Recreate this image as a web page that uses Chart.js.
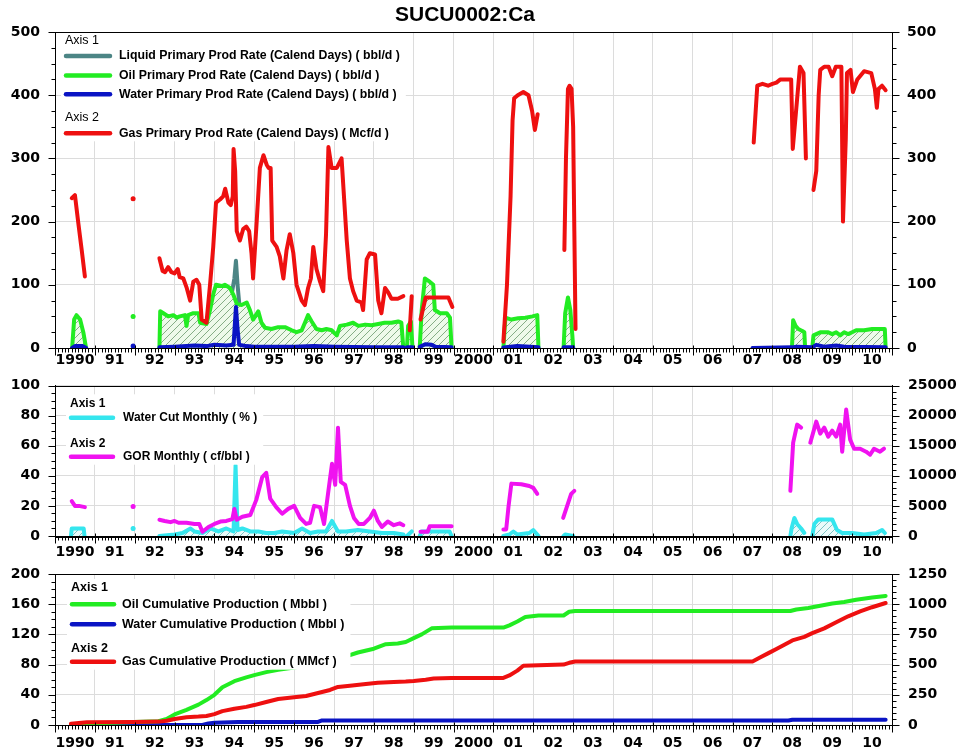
<!DOCTYPE html>
<html>
<head>
<meta charset="utf-8">
<script src="https://cdn.jsdelivr.net/npm/chart.js@4.4.0/dist/chart.umd.min.js"></script>
<style>
  html, body { margin: 0; padding: 0; background: #fff; }
  #wrap { position: relative; width: 960px; height: 751px; }
  canvas { position: absolute; left: 0; }
</style>
</head>
<body>
<div id="wrap">
  <canvas id="rateChart" width="960" height="370" style="top:0"></canvas>
  <canvas id="ratioChart" width="960" height="190" style="top:370px"></canvas>
  <canvas id="cumChart" width="960" height="191" style="top:560px"></canvas>
</div>
<script>
const chartTitle = 'SUCU0002:Ca';
const yearLabels = ['1990', '91', '92', '93', '94', '95', '96', '97', '98', '99',
  '2000', '01', '02', '03', '04', '05', '06', '07', '08', '09', '10'];
const axisHeads = ['Axis 1', 'Axis 2'];

// top panel: rates (points are [decimal year, value], null value = gap)
const rateLabels = ['Liquid Primary Prod Rate (Calend Days) ( bbl/d )',
  'Oil Primary Prod Rate (Calend Days) ( bbl/d )',
  'Water Primary Prod Rate (Calend Days) ( bbl/d )',
  'Gas Primary Prod Rate (Calend Days) ( Mcf/d )'];

const liquidRate = [[1994.3, 98], [1994.44, 88], [1994.5, 110], [1994.54, 138], [1994.58, 100], [1994.62, 72]];

const oilRate = [
  [1990.43, 0], [1990.48, 45], [1990.54, 52], [1990.63, 45], [1990.71, 25], [1990.78, 0], [1990.8, null],
  [1991.96, 50], [1992.0, null],
  [1992.62, 0], [1992.64, 58], [1992.72, 55], [1992.84, 50], [1992.97, 52], [1993.05, 48], [1993.13, 50],
  [1993.26, 52], [1993.3, 35], [1993.34, 52], [1993.47, 55], [1993.6, 55], [1993.64, 40], [1993.8, 38],
  [1993.89, 60], [1993.97, 85], [1994.04, 100], [1994.18, 98], [1994.26, 100], [1994.39, 95], [1994.47, 85],
  [1994.56, 70], [1994.68, 68], [1994.81, 72], [1994.89, 60], [1994.97, 45], [1995.1, 58], [1995.18, 40],
  [1995.27, 32], [1995.43, 30], [1995.6, 33], [1995.77, 33], [1995.94, 28], [1996.06, 25], [1996.19, 28],
  [1996.27, 40], [1996.35, 52], [1996.44, 42], [1996.56, 30], [1996.69, 28], [1996.81, 30], [1996.94, 28],
  [1997.07, 20], [1997.15, 35], [1997.32, 37], [1997.48, 40], [1997.61, 35], [1997.78, 37], [1997.94, 36],
  [1998.11, 38], [1998.27, 40], [1998.44, 40], [1998.61, 42], [1998.69, 40], [1998.74, 0], [1998.78, null],
  [1998.83, 0], [1998.86, 35], [1998.93, 42], [1998.97, 0], [1999.0, null],
  [1999.15, 0], [1999.2, 60], [1999.28, 110], [1999.4, 105], [1999.49, 100], [1999.53, 60], [1999.66, 55],
  [1999.83, 55], [1999.91, 48], [1999.95, 0], [2000.0, null],
  [2001.25, 0], [2001.3, 48], [2001.45, 45], [2001.62, 47], [2001.8, 48], [2001.98, 50], [2002.1, 52],
  [2002.13, 0], [2002.2, null],
  [2002.76, 0], [2002.8, 55], [2002.87, 80], [2002.93, 60], [2002.98, 20], [2003.0, 0], [2003.05, null],
  [2008.49, 0], [2008.52, 44], [2008.58, 35], [2008.65, 30], [2008.75, 27], [2008.8, 25], [2008.82, 0], [2008.9, null],
  [2009.0, 0], [2009.03, 20], [2009.1, 22], [2009.2, 25], [2009.4, 25], [2009.5, 22], [2009.6, 25], [2009.7, 20],
  [2009.8, 25], [2009.9, 22], [2010.0, 25], [2010.1, 28], [2010.3, 28], [2010.5, 30], [2010.7, 30], [2010.82, 30], [2010.84, 0]
];

const waterRate = [
  [1990.43, 0], [1990.5, 3], [1990.7, 3], [1990.78, 0], [1990.8, null],
  [1991.96, 3], [1992.0, null],
  [1992.62, 1], [1993.0, 2], [1993.5, 4], [1993.8, 3], [1994.0, 5], [1994.3, 4], [1994.48, 5], [1994.54, 65],
  [1994.58, 30], [1994.62, 5], [1994.8, 3], [1995.0, 2], [1996.0, 2], [1996.5, 3], [1997.0, 2], [1998.0, 1],
  [1998.74, 1], [1998.78, null],
  [1998.83, 1], [1998.97, 1], [1999.0, null],
  [1999.15, 2], [1999.3, 6], [1999.45, 5], [1999.55, 2], [1999.95, 1], [2000.0, null],
  [2001.25, 1], [2001.6, 3], [2002.13, 1], [2002.2, null],
  [2002.76, 1], [2003.0, 1], [2003.05, null],
  [2007.5, 0], [2008.5, 1], [2008.6, 2], [2009.0, 1], [2009.1, 5], [2009.3, 2], [2009.6, 4], [2009.8, 2], [2010.84, 1]
];

const gasRate = [
  [1990.42, 237], [1990.5, 242], [1990.58, 200], [1990.67, 155], [1990.75, 113], [1990.8, null],
  [1991.96, 236], [1992.0, null],
  [1992.62, 142], [1992.7, 122], [1992.76, 120], [1992.84, 128], [1992.92, 120], [1993.0, 118], [1993.08, 125],
  [1993.13, 112], [1993.22, 110], [1993.3, 96], [1993.39, 75], [1993.47, 105], [1993.55, 108], [1993.62, 100],
  [1993.68, 45], [1993.8, 40], [1993.89, 100], [1993.97, 160], [1994.04, 230], [1994.14, 235], [1994.22, 240],
  [1994.27, 252], [1994.35, 230], [1994.41, 226], [1994.46, 240], [1994.48, 315], [1994.52, 280], [1994.56, 185],
  [1994.64, 170], [1994.72, 188], [1994.8, 192], [1994.87, 185], [1994.93, 150], [1994.97, 110], [1995.06, 200],
  [1995.14, 285], [1995.23, 305], [1995.31, 290], [1995.36, 285], [1995.41, 285], [1995.45, 170], [1995.56, 160],
  [1995.64, 145], [1995.73, 110], [1995.81, 155], [1995.89, 180], [1995.98, 150], [1996.06, 100], [1996.19, 75],
  [1996.27, 68], [1996.35, 95], [1996.42, 110], [1996.48, 160], [1996.56, 125], [1996.65, 105], [1996.73, 90],
  [1996.8, 180], [1996.86, 318], [1996.94, 285], [1997.07, 285], [1997.19, 300], [1997.23, 260], [1997.32, 170],
  [1997.4, 110], [1997.48, 90], [1997.57, 75], [1997.69, 72], [1997.73, 60], [1997.82, 140], [1997.9, 150],
  [1998.03, 148], [1998.11, 75], [1998.19, 55], [1998.28, 95], [1998.36, 88], [1998.44, 78], [1998.6, 78],
  [1998.74, 82], [1998.8, null],
  [1998.9, 28], [1998.95, 82], [1999.0, null],
  [1999.17, 45], [1999.3, 80], [1999.5, 80], [1999.7, 80], [1999.87, 80], [1999.97, 65], [2000.1, null],
  [2001.25, 10], [2001.34, 100], [2001.43, 240], [2001.48, 360], [2001.52, 395], [2001.61, 400], [2001.75, 405],
  [2001.88, 400], [2001.97, 375], [2002.04, 345], [2002.11, 370], [2002.2, null],
  [2002.78, 155], [2002.82, 300], [2002.87, 410], [2002.91, 415], [2002.96, 410], [2003.0, 350], [2003.03, 185],
  [2003.06, 30], [2003.1, null],
  [2007.53, 325], [2007.62, 415], [2007.75, 418], [2007.89, 415], [2008.0, 418], [2008.1, 420], [2008.2, 425],
  [2008.47, 425], [2008.51, 315], [2008.6, 380], [2008.69, 445], [2008.78, 435], [2008.84, 300], [2008.9, null],
  [2009.03, 250], [2009.1, 280], [2009.16, 400], [2009.2, 440], [2009.3, 445], [2009.41, 445], [2009.5, 430],
  [2009.59, 445], [2009.73, 445], [2009.77, 200], [2009.84, 330], [2009.87, 435], [2009.96, 440], [2010.02, 405],
  [2010.13, 425], [2010.3, 438], [2010.48, 435], [2010.57, 410], [2010.62, 380], [2010.66, 410], [2010.75, 415],
  [2010.84, 408]
];

// middle panel: water cut (%) and GOR (cf/bbl)
const ratioLabels = ['Water Cut Monthly ( % )', 'GOR Monthly ( cf/bbl )'];

const waterCut = [
  [1990.4, 0], [1990.42, 5], [1990.72, 5], [1990.74, 0], [1990.8, null],
  [1991.96, 5], [1992.0, null],
  [1992.62, 0], [1993.0, 1], [1993.2, 2], [1993.4, 5], [1993.5, 3], [1993.7, 2], [1993.9, 5], [1994.1, 3],
  [1994.3, 5], [1994.48, 3], [1994.53, 47], [1994.58, 4], [1994.7, 5], [1994.9, 3], [1995.1, 3], [1995.3, 2],
  [1995.5, 2], [1995.7, 3], [1996.0, 2], [1996.2, 5], [1996.4, 2], [1996.6, 3], [1996.8, 3], [1996.95, 10],
  [1997.1, 3], [1997.3, 3], [1997.6, 4], [1997.9, 3], [1998.2, 2], [1998.5, 2], [1998.74, 1], [1998.78, null],
  [1998.83, 0], [1998.95, 3], [1999.0, null],
  [1999.15, 0], [1999.2, 3], [1999.9, 3], [1999.95, 0], [2000.0, null],
  [2001.25, 0], [2001.4, 1], [2001.5, 3], [2001.6, 1], [2001.9, 2], [2002.0, 4], [2002.1, 1], [2002.13, 0], [2002.2, null],
  [2002.76, 0], [2002.8, 1], [2003.0, 0], [2003.05, null],
  [2008.45, 0], [2008.48, 5], [2008.55, 12], [2008.62, 8], [2008.72, 5], [2008.8, 2], [2008.85, null],
  [2009.0, 0], [2009.05, 8], [2009.15, 11], [2009.5, 11], [2009.62, 4], [2009.75, 2], [2010.0, 2], [2010.3, 1],
  [2010.6, 2], [2010.75, 4], [2010.82, 2]
];

const gorMonthly = [
  [1990.42, 5800], [1990.5, 5000], [1990.6, 5000], [1990.75, 4800], [1990.8, null],
  [1991.96, 4900], [1992.0, null],
  [1992.62, 2700], [1992.75, 2500], [1992.9, 2300], [1993.0, 2500], [1993.1, 2200], [1993.3, 2200], [1993.5, 2000],
  [1993.62, 2000], [1993.7, 700], [1993.85, 1500], [1994.0, 2000], [1994.15, 2400], [1994.3, 2500], [1994.45, 2800],
  [1994.5, 4500], [1994.56, 2700], [1994.7, 3200], [1994.9, 3500], [1995.05, 6000], [1995.2, 9800], [1995.3, 10500],
  [1995.4, 6200], [1995.55, 4800], [1995.7, 3700], [1995.85, 4500], [1996.0, 5000], [1996.15, 3000], [1996.3, 2000],
  [1996.4, 2200], [1996.5, 5000], [1996.65, 4800], [1996.75, 2000], [1996.85, 7000], [1996.95, 12000], [1997.03, 8500],
  [1997.1, 18000], [1997.17, 9000], [1997.28, 8500], [1997.4, 5000], [1997.5, 3000], [1997.62, 2000], [1997.75, 2000],
  [1997.9, 3000], [1998.0, 4200], [1998.1, 2500], [1998.2, 1500], [1998.35, 2400], [1998.5, 1800], [1998.65, 2100],
  [1998.74, 1800], [1998.78, null],
  [1999.17, 700], [1999.35, 700], [1999.4, 1600], [1999.95, 1600], [2000.0, null],
  [2001.25, 1100], [2001.32, 1100], [2001.38, 5000], [2001.45, 8700], [2001.7, 8600], [2001.9, 8300], [2002.0, 8000],
  [2002.1, 7000], [2002.2, null],
  [2002.75, 3000], [2002.85, 5000], [2002.95, 7000], [2003.03, 7500], [2003.1, null],
  [2008.45, 7500], [2008.52, 15500], [2008.62, 18500], [2008.72, 18000], [2008.78, null],
  [2008.95, 15500], [2009.1, 19000], [2009.2, 17000], [2009.3, 18000], [2009.4, 16500], [2009.5, 17500],
  [2009.6, 16500], [2009.7, 18500], [2009.75, 14000], [2009.85, 21000], [2009.95, 16000], [2010.05, 14500],
  [2010.2, 14500], [2010.35, 14000], [2010.45, 13500], [2010.55, 14500], [2010.7, 14000], [2010.8, 14500]
];

// bottom panel: cumulatives
const cumLabels = ['Oil Cumulative Production ( Mbbl )', 'Water Cumulative Production ( Mbbl )',
  'Gas Cumulative Production ( MMcf )'];

const oilCum = [
  [1990.4, 0], [1990.8, 2], [1991.5, 3], [1992.0, 4], [1992.6, 5], [1992.8, 8], [1993.0, 14], [1993.3, 20],
  [1993.6, 27], [1993.8, 33], [1994.0, 40], [1994.2, 50], [1994.5, 58], [1994.8, 63], [1995.0, 66], [1995.3, 70],
  [1995.6, 73], [1996.0, 76], [1996.5, 80], [1996.8, 84], [1997.0, 86], [1997.3, 91], [1997.6, 96], [1998.0, 101],
  [1998.3, 107], [1998.6, 108], [1998.8, 110], [1999.0, 115], [1999.2, 120], [1999.45, 128], [1999.95, 129],
  [2001.25, 129], [2001.4, 132], [2001.6, 137], [2001.8, 143], [2002.13, 145], [2002.76, 145], [2002.9, 150],
  [2003.05, 151], [2008.45, 151], [2008.6, 153], [2008.9, 155], [2009.2, 158], [2009.5, 161], [2009.8, 163],
  [2010.1, 166], [2010.5, 169], [2010.84, 171]
];

const waterCum = [
  [1990.4, 0], [1993.7, 0], [1993.85, 2], [1994.0, 3], [1994.6, 4], [1996.6, 4], [1996.7, 6], [2008.4, 6],
  [2008.5, 7], [2010.84, 7]
];

const gasCum = [
  [1990.4, 10], [1990.8, 22], [1991.96, 24], [1992.62, 28], [1992.8, 35], [1993.0, 50], [1993.3, 65], [1993.6, 70],
  [1993.8, 75], [1994.0, 90], [1994.2, 115], [1994.5, 135], [1994.8, 150], [1995.0, 165], [1995.3, 190],
  [1995.6, 215], [1996.0, 230], [1996.3, 240], [1996.6, 265], [1996.9, 290], [1997.1, 315], [1997.4, 325],
  [1997.8, 340], [1998.1, 350], [1998.5, 355], [1998.8, 360], [1999.0, 365], [1999.3, 375], [1999.5, 385],
  [1999.95, 390], [2001.25, 390], [2001.4, 410], [2001.6, 450], [2001.75, 490], [2002.13, 495], [2002.76, 500],
  [2002.9, 515], [2003.05, 525], [2007.5, 525], [2007.7, 560], [2007.9, 595], [2008.1, 630], [2008.3, 665],
  [2008.5, 700], [2008.8, 730], [2009.0, 760], [2009.3, 800], [2009.6, 850], [2009.9, 900], [2010.2, 940],
  [2010.5, 975], [2010.84, 1010]
];

const GRID = '#dcdcdc';
const CLEAR = 'rgba(0,0,0,0)';
const SANS = "'Liberation Sans', Arial, sans-serif";
const TICKFONT = { family: "'DejaVu Sans', Verdana, sans-serif", weight: 'bold', size: 14, lineHeight: 1 };

function toPoints(pairs) {
  return pairs.map(p => ({ x: p[0], y: p[1] }));
}

function hatch(bg, line) {
  const c = document.createElement('canvas');
  c.width = 7; c.height = 7;
  const g = c.getContext('2d');
  g.fillStyle = bg;
  g.fillRect(0, 0, 7, 7);
  g.strokeStyle = line;
  g.lineWidth = 1;
  g.beginPath();
  g.moveTo(0, 7); g.lineTo(7, 0);
  g.moveTo(-1, 1); g.lineTo(1, -1);
  g.moveTo(6, 8); g.lineTo(8, 6);
  g.stroke();
  return g.createPattern(c, 'repeat');
}

// single isolated samples get a dot, everything else is a plain line
function dotIfAlone(ctx) {
  const d = ctx.dataset.data;
  const i = ctx.dataIndex;
  if (!d[i] || d[i].y === null) return 0;
  const prev = d[i - 1], next = d[i + 1];
  return (!prev || prev.y === null) && (!next || next.y === null) ? 2.5 : 0;
}

function series(label, pairs, color, axis, order, extra) {
  return Object.assign({
    label: label,
    data: toPoints(pairs),
    yAxisID: axis,
    borderColor: color,
    backgroundColor: color,
    borderWidth: 4,
    borderJoinStyle: 'round',
    borderCapStyle: 'round',
    pointRadius: dotIfAlone,
    pointBorderWidth: 0,
    pointBackgroundColor: color,
    fill: false,
    tension: 0,
    spanGaps: false,
    order: order
  }, extra || {});
}

function xAxis(pad, height) {
  return {
    type: 'linear',
    min: 1990,
    max: 2011,
    ticks: {
      stepSize: 0.5,
      autoSkip: false,
      maxRotation: 0,
      minRotation: 0,
      padding: pad,
      color: '#000',
      font: TICKFONT,
      callback: v => (Math.abs(v % 1 - 0.5) < 1e-6 ? yearLabels[Math.floor(v) - 1990] : '')
    },
    grid: {
      drawTicks: false,
      color: c => (c.tick && Math.abs(c.tick.value % 1) < 1e-6 ? GRID : CLEAR)
    },
    border: { display: true, color: '#000', width: 1 },
    afterFit: s => { s.height = height; }
  };
}

// tick marks themselves are drawn by frameTicks; the invisible tickLength only spaces the labels
function yAxis(pos, max, minor, major, gap, width, showGrid) {
  return {
    type: 'linear',
    position: pos,
    min: 0,
    max: max,
    ticks: {
      stepSize: minor,
      autoSkip: false,
      padding: 2,
      color: '#000',
      font: TICKFONT,
      callback: v => (v % major === 0 ? String(v) : '')
    },
    grid: {
      display: true,
      drawOnChartArea: showGrid,
      drawTicks: true,
      tickLength: gap,
      tickColor: CLEAR,
      color: c => (c.tick && c.tick.value % major === 0 ? GRID : CLEAR)
    },
    border: { display: true, color: '#000', width: 1 },
    afterFit: s => { s.width = width; }
  };
}

// frame around the plot plus major/minor tick marks outside it
const frameTicks = {
  id: 'frameTicks',
  afterDraw(chart, args, opts) {
    const a = chart.chartArea;
    const c = chart.ctx;
    c.save();
    c.strokeStyle = '#000';
    c.lineWidth = 1;
    c.strokeRect(Math.round(a.left) + 0.5, Math.round(a.top) + 0.5,
      Math.round(a.right - a.left), Math.round(a.bottom - a.top));
    c.beginPath();
    const xs = chart.scales.x;
    const b = Math.round(a.bottom) + 0.5;
    for (let m = 0; m <= 12 * 21; m++) {
      const px = Math.round(xs.getPixelForValue(1990 + m / 12)) + 0.5;
      if (m % 12 === 0) { c.moveTo(px, b - 3); c.lineTo(px, b + 7); }
      else { c.moveTo(px, b); c.lineTo(px, b + 4); }
    }
    ['y', 'y2'].forEach(id => {
      const s = chart.scales[id];
      const major = opts[id];
      const edge = id === 'y' ? Math.round(a.left) + 0.5 : Math.round(a.right) + 0.5;
      const dir = id === 'y' ? -1 : 1;
      s.ticks.forEach(t => {
        const py = Math.round(s.getPixelForValue(t.value)) + 0.5;
        const len = t.value % major === 0 ? 7 : 4;
        c.moveTo(edge, py);
        c.lineTo(edge + dir * len, py);
      });
    });
    c.stroke();
    c.restore();
  }
};

// "Axis 1 / Axis 2" grouped legend drawn inside the plot on a white box
const axisLegend = {
  id: 'axisLegend',
  afterDatasetsDraw(chart, args, o) {
    const c = chart.ctx;
    const rows = [];
    ['y', 'y2'].forEach((id, k) => {
      rows.push({ head: axisHeads[k] });
      chart.data.datasets.forEach(d => { if (d.yAxisID === id) rows.push({ label: d.label, color: d.borderColor }); });
    });
    c.save();
    c.font = o.font;
    let w = 0;
    rows.forEach(r => { if (r.label) w = Math.max(w, c.measureText(r.label).width); });
    c.fillStyle = '#fff';
    c.fillRect(o.x - 4, o.ys[0] - 9, o.textX + w + 6 - (o.x - 4), o.ys[o.ys.length - 1] - o.ys[0] + 17);
    c.textBaseline = 'middle';
    c.textAlign = 'left';
    rows.forEach((r, i) => {
      const y = o.ys[i];
      c.fillStyle = '#000';
      if (r.head) {
        c.font = o.headFont;
        c.fillText(r.head, o.x, y);
      } else {
        c.strokeStyle = r.color;
        c.lineWidth = 4.5;
        c.lineCap = 'round';
        c.beginPath();
        c.moveTo(o.x + 1, y);
        c.lineTo(o.x + o.sampleW, y);
        c.stroke();
        c.font = o.font;
        c.fillText(r.label, o.textX, y);
      }
    });
    c.restore();
  }
};

const titlePlugin = {
  id: 'plotTitle',
  afterDraw(chart, args, o) {
    if (!o || !o.text) return;
    const c = chart.ctx;
    c.save();
    c.font = 'bold 21px ' + SANS;
    c.fillStyle = '#000';
    c.textAlign = 'center';
    c.textBaseline = 'middle';
    c.fillText(o.text, o.x, o.y);
    c.restore();
  }
};

function baseOptions(top, scales, legendOpts, majors, title) {
  return {
    responsive: false,
    animation: false,
    layout: { padding: { top: top, left: 0, right: 0, bottom: 0 } },
    plugins: {
      legend: { display: false },
      tooltip: { enabled: false },
      frameTicks: majors,
      axisLegend: legendOpts,
      plotTitle: title || {}
    },
    scales: scales
  };
}

const greenHatch = hatch('#eefaea', '#86ad86');
const cyanHatch = hatch('#eafafa', '#7cc4c4');

new Chart(document.getElementById('rateChart'), {
  type: 'line',
  data: {
    datasets: [
      series(rateLabels[0], liquidRate, '#4c8585', 'y', 4),
      series(rateLabels[1], oilRate, '#22ec22', 'y', 3, { fill: 'origin', backgroundColor: greenHatch }),
      series(rateLabels[2], waterRate, '#0a14c4', 'y', 1),
      series(rateLabels[3], gasRate, '#ee1010', 'y2', 0)
    ]
  },
  options: baseOptions(32, {
    x: xAxis(5, 22),
    y: yAxis('left', 500, 25, 100, 13, 55, true),
    y2: yAxis('right', 500, 25, 100, 13, 68, false)
  }, {
    x: 65, sampleW: 45, textX: 119, ys: [41, 56, 75.5, 94.3, 117.3, 133.3],
    font: 'bold 12.3px ' + SANS, headFont: '12.5px ' + SANS
  }, { y: 100, y2: 100 }, { text: chartTitle, x: 465, y: 15 }),
  plugins: [frameTicks, axisLegend, titlePlugin]
});

new Chart(document.getElementById('ratioChart'), {
  type: 'line',
  data: {
    datasets: [
      series(ratioLabels[0], waterCut, '#35e6ee', 'y', 1, { fill: 'origin', backgroundColor: cyanHatch }),
      series(ratioLabels[1], gorMonthly, '#f012f0', 'y2', 0)
    ]
  },
  options: baseOptions(15.5, {
    x: xAxis(9, 24),
    y: yAxis('left', 100, 5, 20, 13, 55, true),
    y2: yAxis('right', 25000, 1000, 5000, 14, 68, false)
  }, {
    x: 70, sampleW: 43, textX: 123, ys: [33.3, 47.7, 73.3, 86.7],
    font: 'bold 12px ' + SANS, headFont: 'bold 12px ' + SANS
  }, { y: 20, y2: 5000 }),
  plugins: [frameTicks, axisLegend]
});

new Chart(document.getElementById('cumChart'), {
  type: 'line',
  data: {
    datasets: [
      series(cumLabels[0], oilCum, '#22ec22', 'y', 1),
      series(cumLabels[1], waterCum, '#0a14c4', 'y', 2),
      series(cumLabels[2], gasCum, '#ee1010', 'y2', 0)
    ]
  },
  options: baseOptions(14, {
    x: xAxis(11, 26),
    y: yAxis('left', 200, 10, 40, 13, 55, true),
    y2: yAxis('right', 1250, 50, 250, 14, 68, false)
  }, {
    x: 71, sampleW: 43, textX: 122, ys: [28, 44.3, 64.3, 88.3, 101.7],
    font: 'bold 12.5px ' + SANS, headFont: 'bold 12.5px ' + SANS
  }, { y: 40, y2: 250 }),
  plugins: [frameTicks, axisLegend]
});
</script>
</body>
</html>
